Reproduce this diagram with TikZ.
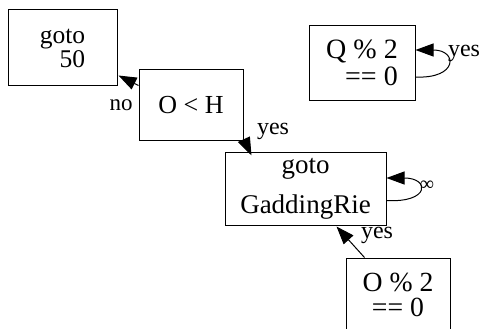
\documentclass[tikz,border=0pt]{standalone}
\usepackage{fontspec}
\setmainfont{Liberation Serif}
\usetikzlibrary{arrows.meta,calc}
\tikzset{
  box/.style={draw=black, line width=1pt, inner sep=0pt, rectangle},
  edge/.style={draw=black, line width=1pt, -{Triangle[length=18pt,width=13pt]}},
  lbl/.style={inner sep=0pt, font=\fontsize{24}{24}\selectfont}
}
\begin{document}
\begin{tikzpicture}[x=1pt,y=-1pt]
\useasboundingbox (0,0) rectangle (482,329);
\node[box, minimum width=109pt, minimum height=76pt, align=right, font=\fontsize{25.5}{24}\selectfont] (g50) at (62.5,48) {goto\\50};
\node[box, minimum width=104pt, minimum height=70pt, font=\fontsize{26}{26}\selectfont] (olth) at (191,105) {O < H};
\node[box, minimum width=161pt, minimum height=73pt, align=center, font=\fontsize{27}{40}\selectfont] (gadd) at (305.5,188.5) {goto\\GaddingRie};
\node[box, minimum width=104pt, minimum height=74pt, align=center, font=\fontsize{27.7}{25.5}\selectfont] (o2) at (398,295) {O \% 2\\== 0};
\node[box, minimum width=106pt, minimum height=74pt, align=right, font=\fontsize{28}{26.5}\selectfont] (q2) at (362,63) {Q \% 2\\== 0};
% edges
\draw[edge] ($(olth.north west)+(0,16)$) -- ($(g50.south east)+(1,-11)$);
\draw[edge] ($(olth.south east)+(1,0)$) -- ($(gadd.north west)+(27,4)$);
\draw[edge] ($(o2.north west)+(19,0)$) -- ($(gadd.south west)+(112,1)$);
\draw[edge] ($(gadd.east)+(0,12)$) .. controls (430,203) and (430,178) .. ($(gadd.east)+(0,-10.5)$);
\draw[edge] ($(q2.east)+(0,14)$) .. controls (458,79) and (458,50) .. ($(q2.east)+(0,-13)$);
% labels
\node[lbl, font=\fontsize{23}{23}\selectfont] (lno) at (121,105) {no};
\node[lbl] (ly1) at (273,131) {yes};
\node[lbl] (ly2) at (377,235) {yes};
\node[lbl, font=\fontsize{20}{20}\selectfont] (linf) at (427,186) {∞};
\node[lbl] (ly3) at (464,53) {yes};
\end{tikzpicture}
\end{document}
